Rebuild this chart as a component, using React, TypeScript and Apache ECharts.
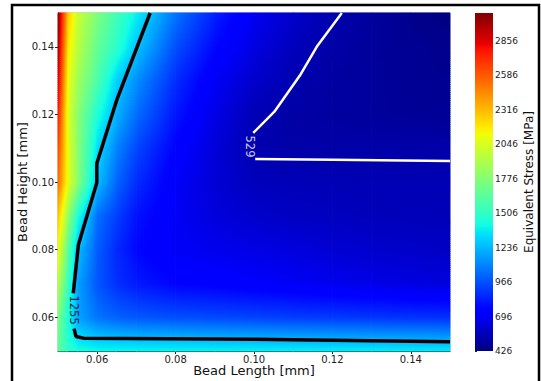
import React, { useEffect, useRef } from "react";
import * as echarts from "echarts";

// ---- data ----
const X_NODES = [0.05, 0.0525, 0.055, 0.06, 0.065, 0.07, 0.08, 0.09, 0.1, 0.11, 0.12, 0.13, 0.14, 0.15];
const Y_NODES = [0.05, 0.06, 0.07, 0.08, 0.09, 0.1, 0.11, 0.12, 0.13, 0.14, 0.15];

// equivalent stress [MPa] per row (y = bead height), columns follow X_NODES
const stressY050 = [1650, 1500, 1430, 1410, 1405, 1400, 1400, 1395, 1390, 1385, 1380, 1380, 1375, 1370];
const stressY060 = [1750, 1450, 1190, 1060, 1010, 985, 960, 945, 930, 915, 905, 895, 885, 880];
const stressY070 = [1950, 1550, 1180, 980, 880, 820, 760, 740, 720, 700, 680, 665, 650, 640];
const stressY080 = [2150, 1650, 1260, 1000, 860, 770, 700, 680, 660, 640, 620, 605, 595, 585];
const stressY090 = [2300, 1850, 1450, 1050, 920, 800, 700, 640, 600, 580, 570, 562, 557, 553];
const stressY100 = [2550, 2100, 1800, 1260, 1020, 870, 710, 625, 565, 552, 550, 548, 547, 546];
const stressY110 = [2650, 2100, 1800, 1340, 1100, 940, 750, 630, 535, 520, 520, 520, 520, 520];
const stressY120 = [2780, 2080, 1800, 1450, 1220, 1040, 810, 660, 550, 512, 500, 490, 482, 475];
const stressY130 = [2900, 2130, 1870, 1600, 1300, 1130, 870, 700, 600, 535, 505, 490, 475, 465];
const stressY140 = [3000, 2200, 1950, 1680, 1490, 1270, 960, 770, 650, 565, 515, 490, 470, 455];
const stressY150 = [3075, 2300, 2000, 1760, 1560, 1380, 1060, 840, 690, 600, 535, 495, 460, 430];
const STRESS_ROWS = [stressY050, stressY060, stressY070, stressY080, stressY090, stressY100,
  stressY110, stressY120, stressY130, stressY140, stressY150];

const CB_MIN = 426;
const CB_MAX = 3075;
const CB_TICKS = [426, 696, 966, 1236, 1506, 1776, 2046, 2316, 2586, 2856];
const X_TICKS = [0.06, 0.08, 0.1, 0.12, 0.14];
const Y_TICKS = [0.06, 0.08, 0.1, 0.12, 0.14];

// contour lines (x, y)
const contour1255Upper = [[0.0735, 0.15], [0.065, 0.1243], [0.0599, 0.1055], [0.0599, 0.0998], [0.0552, 0.0814], [0.0539, 0.0671]];
const contour1255Lower = [[0.0541, 0.0566], [0.0546, 0.0543], [0.0565, 0.0538], [0.1, 0.0535], [0.15, 0.0527]];
const contour529Upper = [[0.1224, 0.15], [0.116, 0.14], [0.1117, 0.1315], [0.1052, 0.1208], [0.0998, 0.1145]];
const contour529Lower = [[0.1003, 0.1068], [0.12, 0.1066], [0.15, 0.1062]];
const label1255 = [0.0541, 0.0621];
const label529 = [0.099, 0.1105];

const FONT = "DejaVu Sans";

function lerpPts(t: number, xs: number[], ys: number[]) {
  if (t <= xs[0]) return ys[0];
  for (let k = 1; k < xs.length; k++) {
    if (t <= xs[k]) {
      const f = (t - xs[k - 1]) / (xs[k] - xs[k - 1]);
      return ys[k - 1] + f * (ys[k] - ys[k - 1]);
    }
  }
  return ys[ys.length - 1];
}

function jetT(t: number) {
  t = Math.max(0, Math.min(1, t));
  const r = lerpPts(t, [0, 0.35, 0.66, 0.89, 1], [0, 0, 1, 1, 0.5]);
  const g = lerpPts(t, [0, 0.125, 0.375, 0.64, 0.91, 1], [0, 0, 1, 1, 0, 0]);
  const b = lerpPts(t, [0, 0.11, 0.34, 0.65, 1], [0.5, 1, 1, 0, 0]);
  return `rgb(${Math.round(r * 255)},${Math.round(g * 255)},${Math.round(b * 255)})`;
}
function jetV(v: number) {
  return jetT((v - CB_MIN) / (CB_MAX - CB_MIN));
}

export default function App() {
  const ref = useRef<HTMLDivElement>(null);
  useEffect(() => {
    if (!ref.current) return;
    const chart = echarts.init(ref.current, undefined, { renderer: "svg" });

    const cells: number[][] = [];
    for (let j = 0; j < Y_NODES.length - 1; j++) {
      for (let i = 0; i < X_NODES.length - 1; i++) {
        cells.push([(X_NODES[i] + X_NODES[i + 1]) / 2, (Y_NODES[j] + Y_NODES[j + 1]) / 2, i, j]);
      }
    }

    const renderCell = (_params: any, api: any) => {
      const i = api.value(2);
      const j = api.value(3);
      const p0 = api.coord([X_NODES[i], Y_NODES[j]]);
      const p1 = api.coord([X_NODES[i + 1], Y_NODES[j + 1]]);
      const left = p0[0], right = p1[0], bottom = p0[1], top = p1[1];
      const v00 = STRESS_ROWS[j][i], v10 = STRESS_ROWS[j][i + 1];
      const v01 = STRESS_ROWS[j + 1][i], v11 = STRESS_ROWS[j + 1][i + 1];
      const h = bottom - top;
      const n = Math.max(1, Math.ceil(h / 2));
      const children: any[] = [];
      for (let s = 0; s < n; s++) {
        const fc = (s + 0.5) / n;
        const vl = v00 + (v01 - v00) * fc;
        const vr = v10 + (v11 - v10) * fc;
        const stops: any[] = [];
        const ns = 8;
        for (let k = 0; k <= ns; k++) {
          const f = k / ns;
          stops.push({ offset: f, color: jetV(vl + (vr - vl) * f) });
        }
        const yBot = bottom - (s / n) * h;
        const yTop = bottom - ((s + 1) / n) * h;
        children.push({
          type: "rect",
          shape: { x: left - 0.3, y: yTop - 0.4, width: right - left + 0.6, height: yBot - yTop + 0.8 },
          style: { fill: new echarts.graphic.LinearGradient(0, 0, 1, 0, stops) },
          silent: true,
        });
      }
      return { type: "group", children };
    };

    const renderColorbar = (_params: any, api: any) => {
      const p0 = api.coord([0, api.value(1)]);
      const p1 = api.coord([1, api.value(2)]);
      const stops: any[] = [];
      for (let k = 0; k <= 100; k++) {
        stops.push({ offset: k / 100, color: jetT(k / 100) });
      }
      return {
        type: "rect",
        shape: { x: p0[0], y: p1[1], width: p1[0] - p0[0], height: p0[1] - p1[1] },
        style: { fill: new echarts.graphic.LinearGradient(0, 1, 0, 0, stops) },
        silent: true,
      };
    };

    const axisText = { fontFamily: FONT, color: "#222" };

    chart.setOption({
      animation: false,
      backgroundColor: "#fff",
      textStyle: { fontFamily: FONT },
      graphic: [
        {
          type: "rect",
          shape: { x: 12, y: 5, width: 527, height: 430 },
          style: { fill: "none", stroke: "#000", lineWidth: 2.5 },
          silent: true,
          z: 100,
        },
      ],
      grid: [
        { left: 58, top: 13, width: 392, height: 338, show: true, borderColor: "#aaa", borderWidth: 1, outerBoundsMode: "none" },
        { left: 475, top: 13, width: 18, height: 338, outerBoundsMode: "none" },
      ],
      xAxis: [
        {
          type: "value", gridIndex: 0, min: 0.05, max: 0.15,
          name: "Bead Length [mm]", nameLocation: "middle", nameGap: 13, nameMoveOverlap: false,
          nameTextStyle: { fontSize: 13, lineHeight: 13, color: "#111", fontFamily: FONT },
          axisLine: { show: true, onZero: false, lineStyle: { color: "#222", width: 1 } },
          axisTick: { show: true, inside: false, length: 3, lineStyle: { color: "#222" }, customValues: X_TICKS },
          axisLabel: { ...axisText, fontSize: 10, lineHeight: 10, margin: 3, customValues: X_TICKS, formatter: (v: number) => v.toFixed(2) },
          splitLine: { show: false },
        },
        { type: "value", gridIndex: 1, min: 0, max: 1, show: false },
      ],
      yAxis: [
        {
          type: "value", gridIndex: 0, min: 0.05, max: 0.15,
          name: "Bead Height [mm]", nameLocation: "middle", nameGap: 29, nameMoveOverlap: false,
          nameTextStyle: { fontSize: 13, color: "#111", fontFamily: FONT },
          axisLine: { show: true, onZero: false, lineStyle: { color: "#222", width: 1 } },
          axisTick: { show: true, inside: false, length: 3, lineStyle: { color: "#222" }, customValues: Y_TICKS },
          axisLabel: { ...axisText, fontSize: 10, margin: 4, customValues: Y_TICKS, formatter: (v: number) => v.toFixed(2) },
          splitLine: { show: false },
        },
        {
          type: "value", gridIndex: 1, min: CB_MIN, max: CB_MAX, position: "right",
          name: "Equivalent Stress [MPa]", nameLocation: "middle", nameGap: 30, nameRotate: 90,
          nameTextStyle: { fontSize: 12, color: "#111", fontFamily: FONT },
          axisLine: { show: false },
          axisTick: { show: true, inside: false, length: 2, lineStyle: { color: "#222" }, customValues: CB_TICKS },
          axisLabel: { ...axisText, fontSize: 9, margin: 2, customValues: CB_TICKS, formatter: (v: number) => String(v) },
          splitLine: { show: false },
        },
      ],
      series: [
        {
          type: "custom", xAxisIndex: 0, yAxisIndex: 0, data: cells,
          encode: { x: 0, y: 1 }, renderItem: renderCell, silent: true, z: 1,
        },
        {
          type: "custom", xAxisIndex: 1, yAxisIndex: 1, data: [[0, CB_MIN, CB_MAX]],
          encode: { x: 0, y: 1 }, renderItem: renderColorbar, silent: true, z: 1,
        },
        ...[contour1255Upper, contour1255Lower].map((seg) => ({
          type: "line", xAxisIndex: 0, yAxisIndex: 0, data: seg, symbol: "none", showSymbol: false,
          lineStyle: { color: "#000", width: 3.5 }, silent: true, z: 5,
        })),
        ...[contour529Upper, contour529Lower].map((seg) => ({
          type: "line", xAxisIndex: 0, yAxisIndex: 0, data: seg, symbol: "none", showSymbol: false,
          lineStyle: { color: "#fff", width: 2.5 }, silent: true, z: 5,
        })),
        {
          type: "scatter", xAxisIndex: 0, yAxisIndex: 0, symbolSize: 0, silent: true, z: 6,
          data: [label1255],
          label: { show: true, position: "inside", formatter: "1255", rotate: -90, fontSize: 11.5, color: "#000", fontFamily: FONT },
        },
        {
          type: "scatter", xAxisIndex: 0, yAxisIndex: 0, symbolSize: 0, silent: true, z: 6,
          data: [label529],
          label: { show: true, position: "inside", formatter: "529", rotate: -90, fontSize: 11.5, color: "#fff", fontFamily: FONT },
        },
      ],
    });
    return () => chart.dispose();
  }, []);
  return (
    <div
      ref={ref}
      style={{ position: "fixed", left: 0, top: 0, width: 541, height: 381, background: "#fff" }}
    />
  );
}
